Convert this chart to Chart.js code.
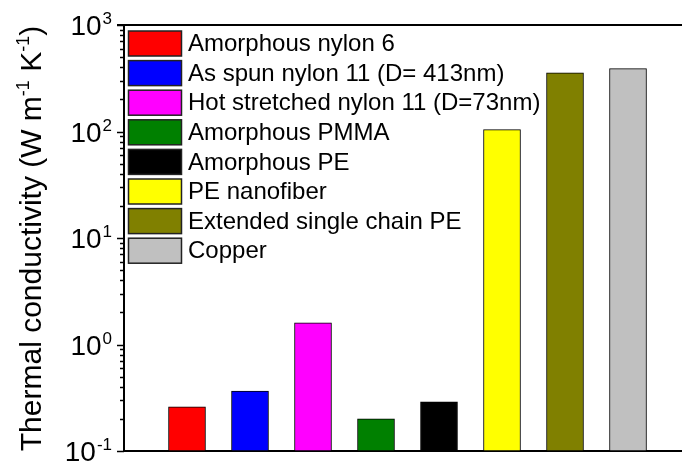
<!DOCTYPE html>
<html>
<head>
<meta charset="utf-8">
<script src="https://cdn.jsdelivr.net/npm/chart.js@4"></script>
<style>
  html, body { margin: 0; padding: 0; background: #fff; overflow: hidden; }
  canvas { display: block; }
</style>
</head>
<body>
<canvas id="c" width="682" height="462"></canvas>
<script>
// Materials, in bar order
const categories = [
  'Amorphous nylon 6',
  'As spun nylon 11 (D= 413nm)',
  'Hot stretched nylon 11 (D=73nm)',
  'Amorphous PMMA',
  'Amorphous PE',
  'PE nanofiber',
  'Extended single chain PE',
  'Copper'
];
// Thermal conductivity, W m^-1 K^-1
const conductivity = [0.26, 0.365, 1.6, 0.2, 0.29, 104, 355, 390];
const barColors = ['#FF0000', '#0000FF', '#FF00FF', '#008000', '#000000', '#FFFF00', '#808000', '#C0C0C0'];
// Decade tick labels: 10^exp
const decadeExponents = [-1, 0, 1, 2, 3];
const yTitleParts = [
  { text: 'Thermal conductivity (W m', sup: false },
  { text: '-1', sup: true },
  { text: ' K', sup: false },
  { text: '-1', sup: true },
  { text: ')', sup: false }
];

const FONT = '"Liberation Sans", Arial, Helvetica, sans-serif';

// Frame, log ticks, decade labels, axis title and in-plot legend
const decorations = {
  id: 'decorations',
  afterDraw(chart) {
    const ctx = chart.ctx;
    const area = chart.chartArea;
    const y = chart.scales.y;
    ctx.save();

    // top frame line
    ctx.strokeStyle = '#000';
    ctx.lineWidth = 2;
    ctx.beginPath();
    ctx.moveTo(area.left - 7, area.top);
    ctx.lineTo(chart.width, area.top);
    ctx.stroke();

    // major and minor ticks, pointing outward
    ctx.lineWidth = 1.5;
    for (let e = decadeExponents[0]; e <= decadeExponents[decadeExponents.length - 1]; e++) {
      for (let m = 1; m <= 9; m++) {
        const v = m * Math.pow(10, e);
        if (v > y.max * 1.0001) break;
        const py = Math.round(y.getPixelForValue(v)) + 0.5;
        const len = m === 1 ? 7 : 4;
        ctx.beginPath();
        ctx.moveTo(area.left - len, py);
        ctx.lineTo(area.left, py);
        ctx.stroke();
      }
    }

    // decade labels 10^n
    ctx.fillStyle = '#000';
    ctx.textBaseline = 'alphabetic';
    decadeExponents.forEach(exp => {
      const py = y.getPixelForValue(Math.pow(10, exp));
      ctx.font = '28px ' + FONT;
      const wBase = ctx.measureText('10').width;
      ctx.font = '17px ' + FONT;
      const wExp = ctx.measureText(String(exp)).width;
      const right = area.left - 13;
      const x0 = right - wBase - wExp;
      ctx.font = '28px ' + FONT;
      ctx.textAlign = 'left';
      ctx.fillText('10', x0, py + 10);
      ctx.font = '17px ' + FONT;
      ctx.fillText(String(exp), x0 + wBase + 1, py - 1);
    });

    // y-axis title with superscripts
    ctx.save();
    ctx.translate(41, (area.top + area.bottom) / 2 + 0.5);
    ctx.rotate(-Math.PI / 2);
    const mainFont = '30px ' + FONT;
    const supFont = '18px ' + FONT;
    let total = 0;
    yTitleParts.forEach(p => {
      ctx.font = p.sup ? supFont : mainFont;
      total += ctx.measureText(p.text).width;
    });
    let cx = -total / 2;
    yTitleParts.forEach(p => {
      ctx.font = p.sup ? supFont : mainFont;
      ctx.fillText(p.text, cx, p.sup ? -12 : 0);
      cx += ctx.measureText(p.text).width;
    });
    ctx.restore();

    // legend inside the plot
    const boxX = area.left + 4.5;
    const boxW = 53, boxH = 25, step = 29.6;
    ctx.font = '24px ' + FONT;
    ctx.textBaseline = 'middle';
    ctx.textAlign = 'left';
    categories.forEach((name, i) => {
      const by = area.top + 6 + i * step;
      ctx.fillStyle = barColors[i];
      ctx.fillRect(boxX, by, boxW, boxH);
      ctx.strokeStyle = '#222';
      ctx.lineWidth = 1.5;
      ctx.strokeRect(boxX, by, boxW, boxH);
      ctx.fillStyle = '#000';
      ctx.fillText(name, boxX + boxW + 6.5, by + boxH / 2 + 1);
    });

    ctx.restore();
  }
};

new Chart(document.getElementById('c'), {
  type: 'bar',
  data: {
    datasets: [{
      data: categories.map((c, i) => ({ x: i + 1, y: conductivity[i] })),
      backgroundColor: barColors,
      borderColor: '#000',
      borderWidth: 1,
      borderSkipped: false,
      barThickness: 37
    }]
  },
  options: {
    responsive: false,
    animation: false,
    devicePixelRatio: 1,
    layout: { padding: { top: 25, left: 0, right: 0, bottom: 0 } },
    plugins: { legend: { display: false }, tooltip: { enabled: false } },
    scales: {
      x: {
        type: 'linear',
        min: 0,
        max: 8.857,
        offset: false,
        ticks: { display: false },
        grid: { display: false, offset: false },
        border: { display: true, color: '#000', width: 2 },
        afterFit(s) { s.height = 11; }
      },
      y: {
        type: 'logarithmic',
        min: 0.1,
        max: 1000,
        ticks: { display: false },
        grid: { display: false },
        border: { display: true, color: '#000', width: 2 },
        afterFit(s) { s.width = 124; }
      }
    }
  },
  plugins: [decorations]
});
</script>
</body>
</html>
